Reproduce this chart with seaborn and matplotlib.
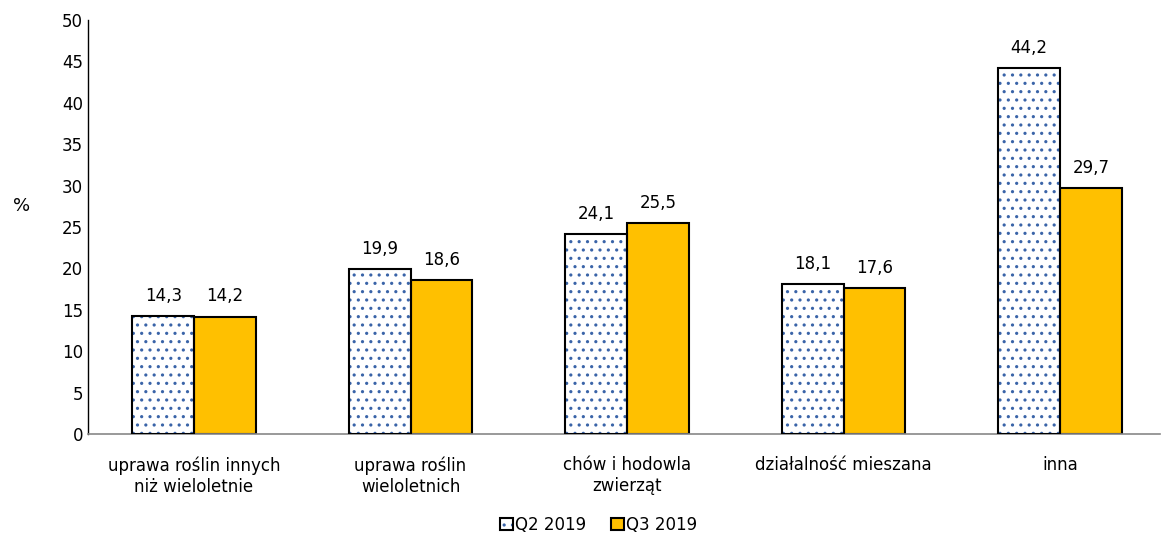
import pandas as pd
import seaborn as sns
import matplotlib.pyplot as plt
from matplotlib.patches import Rectangle

categories = ["uprawa roślin innych\nniż wieloletnie", "uprawa roślin\nwieloletnich",
              "chów i hodowla\nzwierząt", "działalność mieszana", "inna"]
q2 = [14.3, 19.9, 24.1, 18.1, 44.2]
q3 = [14.2, 18.6, 25.5, 17.6, 29.7]
series = ["Q2 2019", "Q3 2019"]

df = pd.DataFrame({
    "kategoria": categories * 2,
    "okres": [series[0]] * 5 + [series[1]] * 5,
    "wartosc": q2 + q3,
})

sns.set_style("white")
plt.rcParams["font.family"] = ["DejaVu Sans"]
plt.rcParams["font.size"] = 12
plt.rcParams["text.color"] = "black"
plt.rcParams["xtick.color"] = "black"
plt.rcParams["ytick.color"] = "black"
plt.rcParams["axes.labelcolor"] = "black"
plt.rcParams["hatch.linewidth"] = 1.1

fig, ax = plt.subplots(figsize=(11.62, 5.38), dpi=100)
fig.subplots_adjust(left=0.0757, right=0.998, top=0.963, bottom=0.193)

sns.barplot(data=df, x="kategoria", y="wartosc", hue="okres",
            palette=["white", "#FFC000"], saturation=1, width=0.57, gap=0,
            edgecolor="black", linewidth=1.5, ax=ax, legend=False)

# kropkowane słupki Q2: niebieskie kropki + czarna ramka
q2_bars = ax.containers[0]
for p in q2_bars:
    p.set_hatch("..")
    p.set_edgecolor("#3A64A8")
    p.set_linewidth(0)
    ax.add_patch(Rectangle(p.get_xy(), p.get_width(), p.get_height(),
                           fill=False, edgecolor="black", linewidth=1.5, zorder=3))

for cont in ax.containers:
    ax.bar_label(cont, labels=[f"{v:.1f}".replace(".", ",") for v in cont.datavalues],
                 padding=8, fontsize=12, color="black")

ax.set_ylim(0, 50)
ax.set_yticks(range(0, 51, 5))
ax.set_xlim(-0.49, 4.46)
ax.set_xlabel("")
ax.set_ylabel("%", rotation=0, fontsize=13)
ax.yaxis.set_label_coords(-0.062, 0.53)
ax.tick_params(axis="both", length=0, labelsize=12)
ax.tick_params(axis="x", pad=16)
for s in ["top", "right"]:
    ax.spines[s].set_visible(False)
ax.spines["left"].set_color("black")
ax.spines["left"].set_linewidth(1)
ax.spines["bottom"].set_color("#888888")
ax.spines["bottom"].set_linewidth(1.2)

h1 = Rectangle((0, 0), 1, 1, facecolor="white", edgecolor="#3A64A8", hatch="..", linewidth=0)
h1b = Rectangle((0, 0), 1, 1, fill=False, edgecolor="black", linewidth=1.5)
h2 = Rectangle((0, 0), 1, 1, facecolor="#FFC000", edgecolor="black", linewidth=1.5)
fig.legend([(h1, h1b), h2], series, loc="lower center", bbox_to_anchor=(0.515, -0.02),
           ncol=2, frameon=False, fontsize=12, handlelength=0.8, handleheight=0.8,
           handletextpad=0.1, columnspacing=1.5)

fig.savefig("out.png", dpi=100)
